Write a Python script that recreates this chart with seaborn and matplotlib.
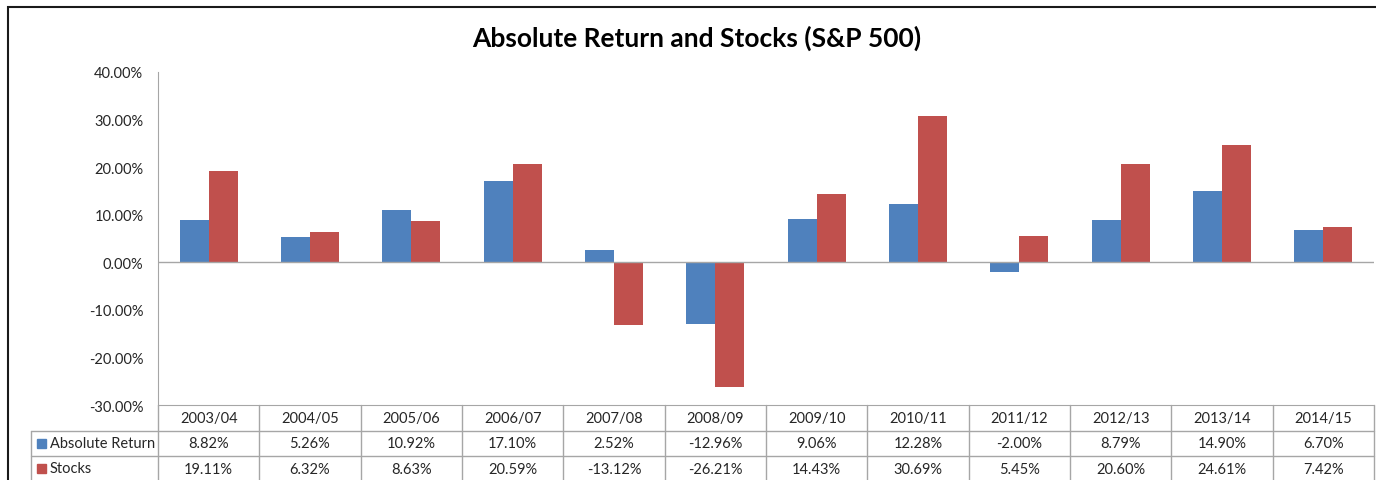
import pandas as pd
import seaborn as sns
import matplotlib.pyplot as plt
from matplotlib.patches import Rectangle
from matplotlib.ticker import FuncFormatter


# 데이터
periods = ['2003/04', '2004/05', '2005/06', '2006/07', '2007/08', '2008/09',
           '2009/10', '2010/11', '2011/12', '2012/13', '2013/14', '2014/15']
absolute_return = [8.82, 5.26, 10.92, 17.10, 2.52, -12.96, 9.06, 12.28, -2.00, 8.79, 14.90, 6.70]
stocks = [19.11, 6.32, 8.63, 20.59, -13.12, -26.21, 14.43, 30.69, 5.45, 20.60, 24.61, 7.42]
series_names = ['Absolute Return', 'Stocks']
colors = ['#4F81BD', '#C0504D']

df = pd.DataFrame({
    'period': periods * 2,
    'value': absolute_return + stocks,
    'series': [series_names[0]] * len(periods) + [series_names[1]] * len(periods),
})

sns.set_style('white')
plt.rcParams['font.family'] = ['Lato', 'DejaVu Sans']

W, H = 1376, 481
fig = plt.figure(figsize=(W / 100, H / 100), dpi=100)

# 플롯 영역 (픽셀 기준)
left, right, top, bottom = 158, 1374, 73, 406
ax = fig.add_axes([left / W, 1 - bottom / H, (right - left) / W, (bottom - top) / H])

sns.barplot(data=df, x='period', y='value', hue='series', palette=colors,
            width=0.57, saturation=1, linewidth=0, legend=False, ax=ax)

line_c = '#a6a6a6'
text_c = '#262626'

ax.set_xlim(-0.5, len(periods) - 0.5)
ax.set_ylim(-30, 40)
ax.set_yticks(range(-30, 41, 10))
ax.yaxis.set_major_formatter(FuncFormatter(lambda v, p: '{:.2f}%'.format(v)))
ax.tick_params(axis='y', length=0, pad=10.5, labelsize=10.5, labelcolor=text_c)
ax.set_xticks([])
ax.set_xlabel('')
ax.set_ylabel('')
for s in ['top', 'right']:
    ax.spines[s].set_visible(False)
ax.spines['left'].set_color(line_c)
ax.spines['bottom'].set_color(line_c)
ax.axhline(0, color=line_c, lw=1)

# 데이터 테이블
tr = ax.get_xaxis_transform()
ph = bottom - top


def yf(py):
    return (bottom - py) / ph


col_w = (right - left) / len(periods)
x_leg = -0.5 - (left - 31) / col_w

for k in range(len(periods) + 1):
    ax.plot([k - 0.5, k - 0.5], [yf(406), yf(490)], transform=tr,
            color=line_c, lw=1, clip_on=False)
ax.plot([x_leg, x_leg], [yf(432), yf(490)], transform=tr, color=line_c, lw=1, clip_on=False)
for py in [432, 457]:
    ax.plot([x_leg, len(periods) - 0.5], [yf(py), yf(py)], transform=tr,
            color=line_c, lw=1, clip_on=False)

for i, p in enumerate(periods):
    ax.text(i, yf(419), p, transform=tr, ha='center', va='center',
            fontsize=10.5, color=text_c, clip_on=False)
    ax.text(i, yf(444.5), '{:.2f}%'.format(absolute_return[i]), transform=tr,
            ha='center', va='center', fontsize=10.5, color=text_c, clip_on=False)
    ax.text(i, yf(469.5), '{:.2f}%'.format(stocks[i]), transform=tr,
            ha='center', va='center', fontsize=10.5, color=text_c, clip_on=False)

# 범례 키
for j, (name, c) in enumerate(zip(series_names, colors)):
    yc = [444.5, 469.5][j]
    fig.patches.append(Rectangle((37 / W, 1 - (yc + 4.5) / H), 9 / W, 9 / H,
                                 transform=fig.transFigure, color=c))
    fig.text(50 / W, 1 - yc / H, name, ha='left', va='center',
             fontsize=10.5, color=text_c)

# 제목
fig.text(697 / W, 1 - 38 / H, 'Absolute Return and Stocks (S&P 500)',
         ha='center', va='center', fontsize=19, fontweight='bold', color='black')

# 바깥 테두리
fig.patches.append(Rectangle((8 / W, -0.1), 1.2, 1 - 8 / H + 0.1,
                             transform=fig.transFigure, fill=False,
                             edgecolor='#1a1a1a', lw=1.5))

fig.savefig('out.png', dpi=100)
